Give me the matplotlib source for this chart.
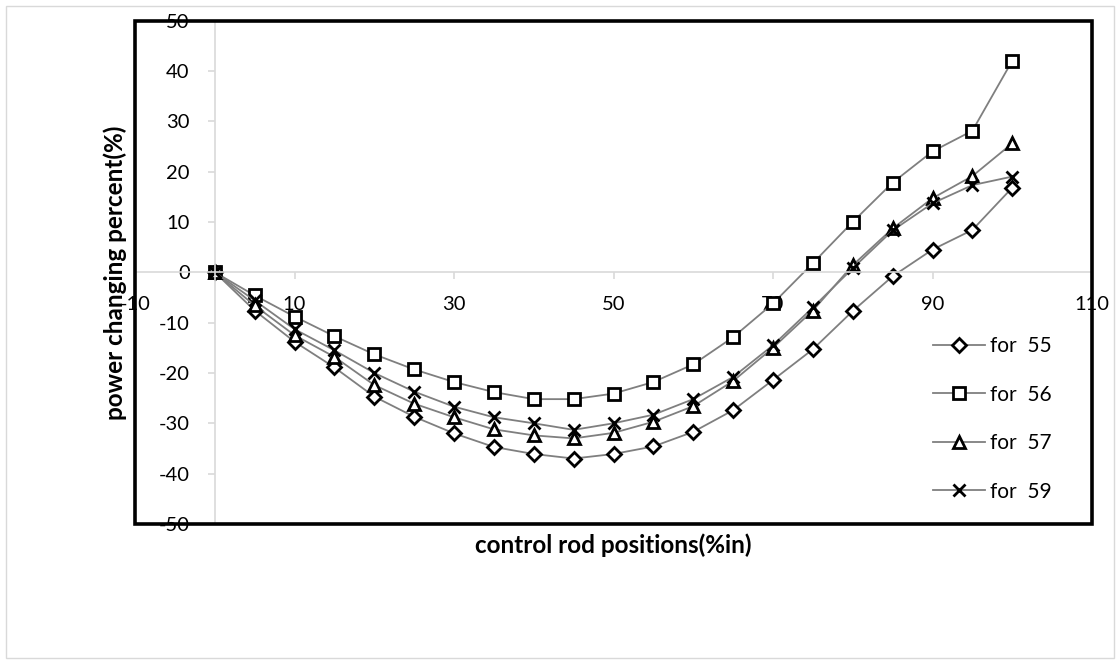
import matplotlib

matplotlib.use("Agg")
import matplotlib.pyplot as plt
from matplotlib.patches import Rectangle

plt.rcParams["font.family"] = ["Lato", "DejaVu Sans"]
plt.rcParams["axes.unicode_minus"] = False

# control rod position (%in) and power change (%) per case
positions = [0, 5, 10, 15, 20, 25, 30, 35, 40, 45, 50,
             55, 60, 65, 70, 75, 80, 85, 90, 95, 100]
for_55 = [0, -7.6, -13.8, -18.9, -24.7, -28.7, -32.0, -34.7, -36.1, -37.0, -36.1,
          -34.6, -31.7, -27.4, -21.4, -15.3, -7.7, -0.8, 4.5, 8.4, 16.8]
for_56 = [0, -4.6, -8.8, -12.7, -16.3, -19.3, -21.8, -23.8, -25.2, -25.2, -24.1,
          -21.8, -18.3, -12.9, -6.2, 1.8, 10.0, 17.8, 24.0, 28.1, 42.0]
for_57 = [0, -6.6, -12.5, -16.8, -22.4, -26.1, -28.8, -31.2, -32.4, -33.0, -31.9,
          -29.7, -26.6, -21.6, -15.0, -7.6, 1.4, 8.7, 14.7, 19.1, 25.6]
for_59 = [0, -5.6, -11.3, -15.5, -20.0, -23.7, -26.7, -28.8, -30.0, -31.3, -30.0,
          -28.3, -25.2, -20.8, -14.5, -7.0, 0.8, 8.3, 13.7, 17.3, 19.0]

x_ticks = [-10, 10, 30, 50, 70, 90, 110]
y_ticks = list(range(-50, 51, 10))

series = [
    ("for  55", for_55, "D", 7),
    ("for  56", for_56, "s", 8),
    ("for  57", for_57, "^", 8),
    ("for  59", for_59, "x", 8),
]

fig = plt.figure(figsize=(11.2, 6.64), dpi=100)
ax = fig.add_axes([135 / 1120, 1 - 524 / 664, 957 / 1120, 503.5 / 664])

for label, vals, marker, ms in series:
    ax.plot(positions, vals, color="#7f7f7f", lw=1.3, marker=marker, ms=ms,
            mfc="white", mec="black", mew=2, label=label)

ax.set_xlim(-10, 110)
ax.set_ylim(-50, 50)
ax.set_xticks(x_ticks)
ax.set_yticks(y_ticks)

# axes cross at the origin, light grey like the spreadsheet default
for side in ("left", "bottom"):
    ax.spines[side].set_position(("data", 0))
    ax.spines[side].set_color("#d9d9d9")
    ax.spines[side].set_linewidth(1.2)
for side in ("top", "right"):
    ax.spines[side].set_visible(False)
ax.tick_params(axis="both", colors="#d9d9d9", length=5, width=1.2,
               labelcolor="black", labelsize=14.5)
ax.tick_params(axis="y", pad=13)
ax.tick_params(axis="x", pad=12)

# heavy black frame round the plot area
ax.add_patch(Rectangle((0, 0), 1, 1, transform=ax.transAxes, fill=False,
                       lw=2.6, ec="black", clip_on=False, zorder=10))
# thin outer chart border
fig.add_artist(Rectangle((6 / 1120, 6 / 664), 1108 / 1120, 652 / 664,
                         transform=fig.transFigure, fill=False, lw=1,
                         ec="#d9d9d9"))

fig.text(115 / 1120, 1 - 273 / 664, "power changing percent(%)", rotation=90,
         ha="center", va="center", fontsize=17.5, fontweight="bold")
fig.text(613 / 1120, 1 - 545 / 664, "control rod positions(%in)",
         ha="center", va="center", fontsize=17.5, fontweight="bold")

ax.legend(loc="upper left", bbox_to_anchor=(933 / 1120, 1 - 336 / 664),
          bbox_transform=fig.transFigure, frameon=False, fontsize=15,
          borderpad=0, borderaxespad=0, handlelength=2.5, handletextpad=0.25,
          labelspacing=1.37)

fig.savefig("out.png", dpi=100)
